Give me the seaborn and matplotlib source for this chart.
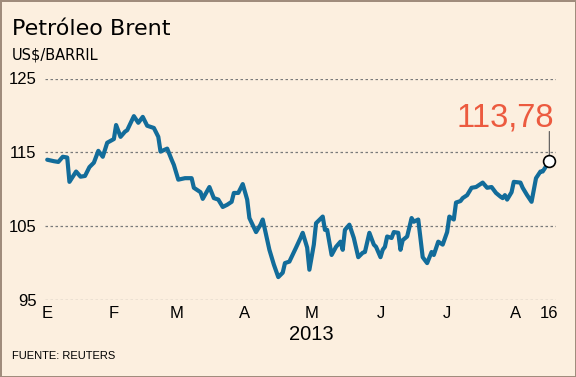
import matplotlib
matplotlib.use('Agg')
import matplotlib.pyplot as plt
from matplotlib import font_manager
import pandas as pd
import seaborn as sns

# Brent, US$/barril
fechas = [
    '2013-01-02', '2013-01-05', '2013-01-07', '2013-01-09', '2013-01-11', '2013-01-12',
    '2013-01-15', '2013-01-17', '2013-01-19', '2013-01-21', '2013-01-23', '2013-01-25',
    '2013-01-27', '2013-01-29', '2013-02-01', '2013-02-02', '2013-02-04', '2013-02-06',
    '2013-02-07', '2013-02-10', '2013-02-12', '2013-02-14', '2013-02-16', '2013-02-19',
    '2013-02-21', '2013-02-22', '2013-02-25', '2013-02-27', '2013-02-28', '2013-03-02',
    '2013-03-05', '2013-03-08', '2013-03-09', '2013-03-12', '2013-03-13', '2013-03-16',
    '2013-03-18', '2013-03-20', '2013-03-22', '2013-03-24', '2013-03-26', '2013-03-27',
    '2013-03-29', '2013-03-31', '2013-04-02', '2013-04-03', '2013-04-06', '2013-04-08',
    '2013-04-09', '2013-04-12', '2013-04-14', '2013-04-16', '2013-04-18', '2013-04-19',
    '2013-04-21', '2013-04-24', '2013-04-26', '2013-04-27', '2013-04-29', '2013-04-30',
    '2013-05-02', '2013-05-03', '2013-05-06', '2013-05-07', '2013-05-08', '2013-05-10',
    '2013-05-12', '2013-05-14', '2013-05-15', '2013-05-16', '2013-05-18', '2013-05-20',
    '2013-05-22', '2013-05-24', '2013-05-25', '2013-05-27', '2013-05-29', '2013-05-30',
    '2013-06-01', '2013-06-02', '2013-06-03', '2013-06-04', '2013-06-06', '2013-06-07',
    '2013-06-09', '2013-06-10', '2013-06-11', '2013-06-13', '2013-06-15', '2013-06-16',
    '2013-06-18', '2013-06-20', '2013-06-22', '2013-06-24', '2013-06-25', '2013-06-27',
    '2013-06-29', '2013-07-01', '2013-07-02', '2013-07-04', '2013-07-05', '2013-07-07',
    '2013-07-08', '2013-07-10', '2013-07-12', '2013-07-14', '2013-07-17', '2013-07-19',
    '2013-07-21', '2013-07-23', '2013-07-25', '2013-07-26', '2013-07-27', '2013-07-28',
    '2013-07-30', '2013-07-31', '2013-08-03', '2013-08-04', '2013-08-06', '2013-08-08',
    '2013-08-10', '2013-08-12', '2013-08-13', '2013-08-16',
]
precios = [
    114.0, 113.8, 113.7, 114.4, 114.3, 111.0,
    112.4, 111.7, 111.8, 113.0, 113.6, 115.2,
    114.4, 116.3, 116.8, 118.7, 117.1, 117.8,
    118.0, 119.9, 119.0, 119.8, 118.6, 118.3,
    117.1, 115.1, 115.5, 114.0, 113.3, 111.3,
    111.5, 111.5, 110.2, 109.6, 108.7, 110.3,
    108.8, 108.6, 107.6, 107.9, 108.3, 109.5,
    109.5, 110.7, 108.6, 106.1, 104.2, 105.2,
    105.9, 101.8, 99.8, 98.1, 98.7, 100.0,
    100.2, 102.1, 103.4, 104.1, 102.1, 99.1,
    102.5, 105.4, 106.3, 104.5, 104.5, 101.1,
    102.2, 102.9, 101.8, 104.5, 105.2, 103.4,
    100.8, 101.4, 101.5, 104.1, 102.5, 102.2,
    100.8, 101.8, 102.2, 103.6, 103.4, 104.2,
    104.1, 101.8, 103.1, 103.6, 106.1, 105.6,
    105.9, 100.8, 100.0, 101.5, 101.1, 102.9,
    102.5, 104.2, 106.3, 105.9, 108.2, 108.4,
    108.8, 109.2, 110.2, 110.3, 110.9, 110.2,
    110.3, 109.5, 109.0, 108.8, 109.2, 108.6,
    109.6, 111.0, 110.9, 110.2, 109.2, 108.3,
    111.5, 112.4, 112.4, 113.78,
]

marcas_fecha = ['2013-01-02', '2013-02-01', '2013-03-01', '2013-04-01', '2013-05-01',
                '2013-06-01', '2013-07-01', '2013-08-01', '2013-08-16']
marcas_texto = ['E', 'F', 'M', 'A', 'M', 'J', 'J', 'A', '16']
niveles = [95, 105, 115, 125]

fondo = '#FCEFDF'
azul = '#126C9A'
rojo = '#EC5A3F'

df = pd.DataFrame({'fecha': pd.to_datetime(fechas), 'precio': precios})

sns.set_style('white')
plt.rcParams['font.family'] = ['DejaVu Sans']
plt.rcParams['text.color'] = 'black'
plt.rcParams['xtick.color'] = 'black'
plt.rcParams['ytick.color'] = 'black'
nombres = {f.name for f in font_manager.fontManager.ttflist}
estrecha = 'Liberation Sans Narrow' if 'Liberation Sans Narrow' in nombres else 'Liberation Sans'

fig = plt.figure(figsize=(5.76, 3.77), dpi=100, facecolor=fondo)
fig.patch.set_edgecolor('#A08C7C')
fig.patch.set_linewidth(2)
ax = fig.add_axes([45 / 576, 1 - 300 / 377, 511 / 576, 221.5 / 377])
ax.set_facecolor(fondo)

sns.lineplot(data=df, x='fecha', y='precio', ax=ax, color=azul, lw=3.0, zorder=3)

ax.set_xlim(pd.Timestamp('2013-01-01'), pd.Timestamp('2013-08-19'))
ax.set_ylim(95, 125)
ax.set_yticks(niveles)
ax.set_yticklabels([str(n) for n in niveles], fontfamily=estrecha, fontsize=12)
ax.set_xticks(pd.to_datetime(marcas_fecha))
ax.set_xticklabels(marcas_texto, fontfamily=estrecha, fontsize=12)
ax.tick_params(length=0)
ax.tick_params(axis='x', pad=4)
ax.tick_params(axis='y', pad=6)
ax.grid(axis='y', color='#7a7a7a', ls=(0, (2, 2)), lw=0.9)
ax.grid(axis='x', visible=False)
sns.despine(ax=ax, left=True, bottom=True)
ax.set_xlabel('')
ax.set_ylabel('')

# último dato
ult_x, ult_y = df['fecha'].iloc[-1], df['precio'].iloc[-1]
ax.plot([ult_x], [ult_y], 'o', mfc='white', mec='black', ms=8.5, mew=1.2,
        clip_on=False, zorder=5)
ax.annotate('', xy=(ult_x, ult_y), xytext=(0, 21.5), textcoords='offset points',
            arrowprops=dict(arrowstyle='-', color='#555555', lw=0.8, shrinkA=0, shrinkB=4.5))
ax.annotate(f'{ult_y:.2f}'.replace('.', ','), xy=(ult_x, ult_y), xytext=(3, 25),
            textcoords='offset points', ha='right', va='baseline', color=rojo,
            fontsize=23.5, fontfamily=estrecha)

fig.text(12 / 576, 1 - 35 / 377, 'Petróleo Brent', fontsize=16, va='baseline')
fig.text(12 / 576, 1 - 60 / 377, 'US$/BARRIL', fontsize=10.5, va='baseline')
fig.text(311 / 576, 1 - 340 / 377, '2013', fontsize=14.5, ha='center', va='baseline',
         fontfamily=estrecha)
fig.text(12 / 576, 1 - 359 / 377, 'FUENTE: REUTERS', fontsize=8, va='baseline',
         fontfamily=estrecha)

fig.savefig('out.png', dpi=100, facecolor=fondo)
